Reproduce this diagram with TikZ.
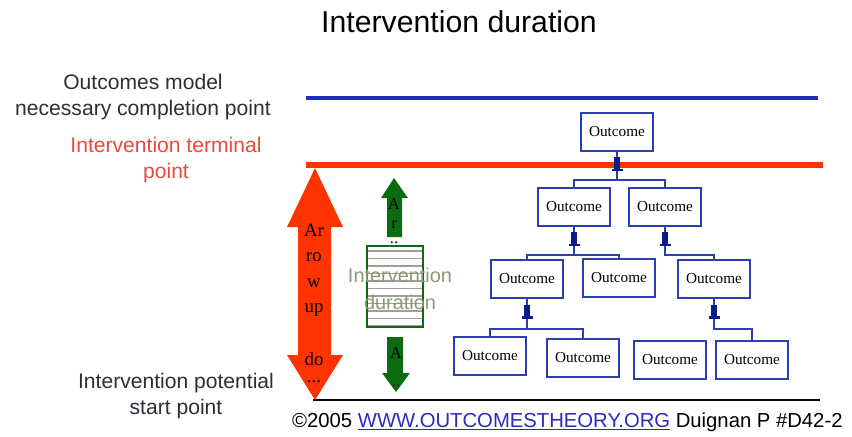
\documentclass[tikz,border=0pt]{standalone}
\usepackage{fontspec}
\setmainfont{Liberation Serif}
\setsansfont{Liberation Sans}

\definecolor{redline}{HTML}{FF3300}
\definecolor{blueline}{HTML}{1F2FB8}
\definecolor{boxblue}{HTML}{2B3FB0}
\definecolor{tabblue}{HTML}{0A1A8A}
\definecolor{arrowgreen}{HTML}{0B6B10}
\definecolor{stripe}{HTML}{A89A9A}
\definecolor{durtext}{HTML}{8A9A72}
\definecolor{labelred}{HTML}{E84A3C}
\definecolor{labelgray}{HTML}{2E2E3A}
\definecolor{urlblue}{HTML}{2B2BC0}

\begin{document}
\begin{tikzpicture}[x=0.03cm,y=-0.03cm,
	outcome/.style={rectangle,draw=boxblue,line width=1.5pt,fill=white,
		minimum width=2.16cm,minimum height=1.14cm,inner sep=1pt,
		font=\fontsize{13}{15}\selectfont},
	link/.style={draw=boxblue,line width=1.5pt},
	tab/.style={rectangle,fill=tabblue,inner sep=0pt,
		minimum width=0.2cm,minimum height=0.36cm},
	bar/.style={rectangle,fill=tabblue,inner sep=0pt,
		minimum width=0.33cm,minimum height=0.08cm},
	label/.style={font=\sffamily\fontsize{18}{22}\selectfont,align=center},
	arrowtext/.style={font=\fontsize{16}{18}\selectfont,inner sep=0pt}]

	\useasboundingbox (0,0) rectangle (852,436);

	% title
	\node[font=\sffamily\fontsize{25.8}{30}\selectfont] (title) at (459,22) {Intervention duration};

	% time points
	\coordinate (endL) at (306,98);   \coordinate (endR) at (818,98);
	\coordinate (termL) at (306,165); \coordinate (termR) at (823,165);
	\coordinate (startL) at (313,400); \coordinate (startR) at (820,400);
	\draw[blueline,line width=3.4pt] (endL) -- (endR);
	\draw[redline,line width=4.3pt] (termL) -- (termR);
	\draw[black,line width=1.5pt] (startL) -- (startR);

	\node[label,text=labelgray] (lab1) at (143,97) {Outcomes model\\necessary completion point};
	\node[label,text=labelred] (lab2) at (166,160) {Intervention terminal\\point};
	\node[label,text=labelgray] (lab3) at (176,396) {Intervention potential\\start point};

	% red double arrow
	\fill[redline] (315,168) -- (343,227) -- (331,227) -- (331,355) -- (343,355)
		-- (315,400) -- (287,355) -- (298,355) -- (298,227) -- (287,227) -- cycle;
	\node[arrowtext] (r1) at (314,230) {Ar};
	\node[arrowtext] (r2) at (314,257) {ro};
	\node[arrowtext] (r3) at (314,283) {w};
	\node[arrowtext] (r4) at (314,310) {up};
	\node[arrowtext] (r5) at (314,359) {do};
	\node[arrowtext] (r6) at (314,382) {...};

	% duration box
	\fill[white] (367,246) rectangle (423,327);
	\foreach \y in {251,258.5,...,327}
		\draw[stripe,line width=1.6pt] (368,\y) -- (422,\y);
	\draw[arrowgreen,line width=1pt] (367,246) rectangle (423,327);
	\node[font=\sffamily\fontsize{17}{23}\selectfont,text=durtext,align=center] (dur) at (400,289)
		{Intervention\\duration};

	% green arrows
	\fill[arrowgreen] (394,178) -- (408,198) -- (402,198) -- (402,237) -- (387,237)
		-- (387,198) -- (381,198) -- cycle;
	\fill[arrowgreen] (387,337) -- (403,337) -- (403,373) -- (410,373) -- (396,392)
		-- (382,373) -- (387,373) -- cycle;
	\node[arrowtext,font=\fontsize{14}{16}\selectfont] (g1) at (394,204) {A};
	\node[arrowtext,font=\fontsize{14}{16}\selectfont] (g2) at (394,225) {r};
	\node[arrowtext,font=\fontsize{14}{16}\selectfont] (g3) at (394,243) {..};
	\node[arrowtext,font=\fontsize{14}{16}\selectfont] (g4) at (396,353) {A};
	\node[arrowtext,font=\fontsize{14}{16}\selectfont] (g5) at (396,386) {..};

	% outcomes model
	\node[outcome] (o1) at (617,132) {Outcome};
	\node[outcome] (o2a) at (574,207) {Outcome};
	\node[outcome] (o2b) at (665,207) {Outcome};
	\node[outcome] (o3a) at (527,279) {Outcome};
	\node[outcome] (o3b) at (619,278) {Outcome};
	\node[outcome] (o3c) at (714,279) {Outcome};
	\node[outcome] (o4a) at (490,356) {Outcome};
	\node[outcome] (o4b) at (583,358) {Outcome};
	\node[outcome] (o4c) at (670,360) {Outcome};
	\node[outcome] (o4d) at (752,360) {Outcome};

	\draw[link] (o1.south) -- node[tab,pos=0.4] (t1) {} node[bar,pos=0.65] (b1) {} ++(0,28) -| (o2a.north);
	\draw[link] (o1.south) ++(0,28) -| (o2b.north);
	\draw[link] (o2a.south) -- node[tab,pos=0.4] (t2) {} node[bar,pos=0.65] (b2) {} ++(0,28) -| (o3a.north);
	\draw[link] (o2a.south) ++(0,28) -| (o3b.north);
	\draw[link] (o2b.south) -- node[tab,pos=0.4] (t3) {} node[bar,pos=0.65] (b3) {} ++(0,28) -| (o3c.north);
	\draw[link] (o3a.south) -- node[tab,pos=0.4] (t4) {} node[bar,pos=0.63] (b4) {} ++(0,30) -| (o4a.north);
	\draw[link] (o3a.south) ++(0,30) -| (o4b.north);
	\draw[link] (o3c.south) -- node[tab,pos=0.4] (t5) {} node[bar,pos=0.63] (b5) {} ++(0,30) -| (o4d.north);

	% footer
	\node[anchor=west,font=\sffamily\fontsize{17.3}{20}\selectfont,inner sep=0pt] (foot) at (292,422)
		{\textcopyright2005 \textcolor{urlblue}{\underline{WWW.OUTCOMESTHEORY.ORG}} Duignan P \#D42-2};

\end{tikzpicture}
\end{document}
